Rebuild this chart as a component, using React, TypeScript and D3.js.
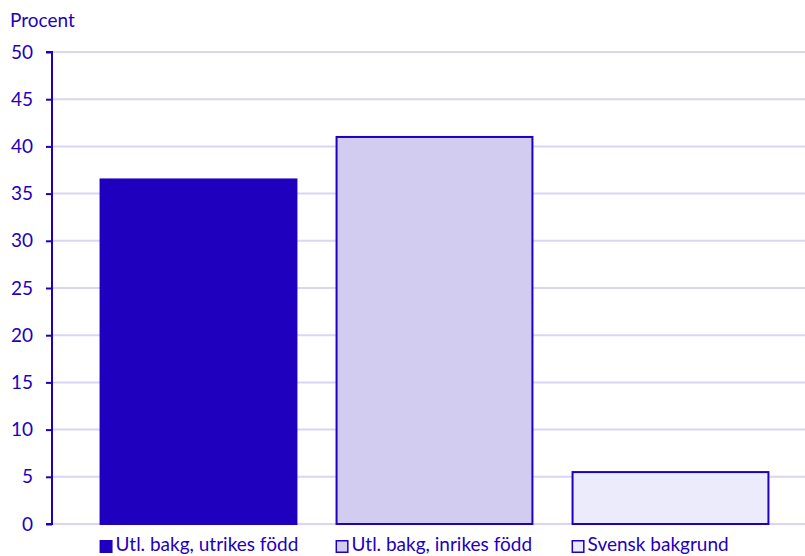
import * as React from 'react';
import * as d3 from 'd3';

const categories = ['Utl. bakg, utrikes född', 'Utl. bakg, inrikes född', 'Svensk bakgrund'];
const values = [36.5, 41.0, 5.5];
const fills = ['#1E00BE', '#D2CDF0', '#ECEBFB'];
const yTicks = [0, 5, 10, 15, 20, 25, 30, 35, 40, 45, 50];

const W = 805;
const H = 556;
const left = 52;
const right = 805;
const top = 52;
const bottom = 524;
const ink = '#1E00BE';
const font = 'Lato, "Open Sans", sans-serif';

export default function App() {
  const ref = React.useRef<SVGSVGElement>(null);

  React.useEffect(() => {
    const svg = d3.select(ref.current);
    svg.selectAll('*').remove();

    const x = d3.scaleBand<string>().domain(categories).range([80.5, 788.5]).paddingInner(0.17).paddingOuter(0.085);
    const y = d3.scaleLinear().domain([0, 50]).range([bottom, top]);

    // grid
    svg.append('g')
      .selectAll('line')
      .data(yTicks)
      .join('line')
      .attr('x1', left)
      .attr('x2', right)
      .attr('y1', d => y(d))
      .attr('y2', d => y(d))
      .attr('stroke', '#D9D6F2')
      .attr('stroke-width', 2);

    // bars
    svg.append('g')
      .selectAll('rect')
      .data(values)
      .join('rect')
      .attr('x', (d, i) => x(categories[i])!)
      .attr('y', d => y(d))
      .attr('width', x.bandwidth())
      .attr('height', d => bottom - y(d))
      .attr('fill', (d, i) => fills[i])
      .attr('stroke', ink)
      .attr('stroke-width', 2);

    // y axis
    const ax = svg.append('g')
      .attr('transform', `translate(${left},0)`)
      .call(d3.axisLeft(y).tickValues(yTicks).tickSize(6).tickPadding(8));
    ax.select('.domain').attr('stroke', ink).attr('stroke-width', 2).attr('d', `M-6,${top}H0V${bottom}H-6`);
    ax.selectAll('.tick line').attr('stroke', ink).attr('stroke-width', 2);
    ax.selectAll('.tick text')
      .attr('fill', ink)
      .attr('font-family', font)
      .attr('font-size', 19)
      .attr('x', -19);

    svg.append('text')
      .attr('x', 10)
      .attr('y', 27)
      .attr('fill', ink)
      .attr('font-family', font)
      .attr('font-size', 19)
      .text('Procent');

    // legend
    const lg = svg.append('g')
      .selectAll('g')
      .data(categories)
      .join('g')
      .attr('transform', d => `translate(${x(d)! - 1},540)`);
    lg.append('rect')
      .attr('x', 0.75)
      .attr('y', 0.75)
      .attr('width', 11.5)
      .attr('height', 11.5)
      .attr('fill', (d, i) => fills[i])
      .attr('stroke', ink)
      .attr('stroke-width', 1.5);
    lg.append('text')
      .attr('x', 16)
      .attr('y', 11)
      .attr('fill', ink)
      .attr('font-family', font)
      .attr('font-size', 19)
      .text(d => d);
  }, []);

  return (
    <svg ref={ref} width={W} height={H} style={{ position: 'absolute', left: 0, top: 0 }} />
  );
}
